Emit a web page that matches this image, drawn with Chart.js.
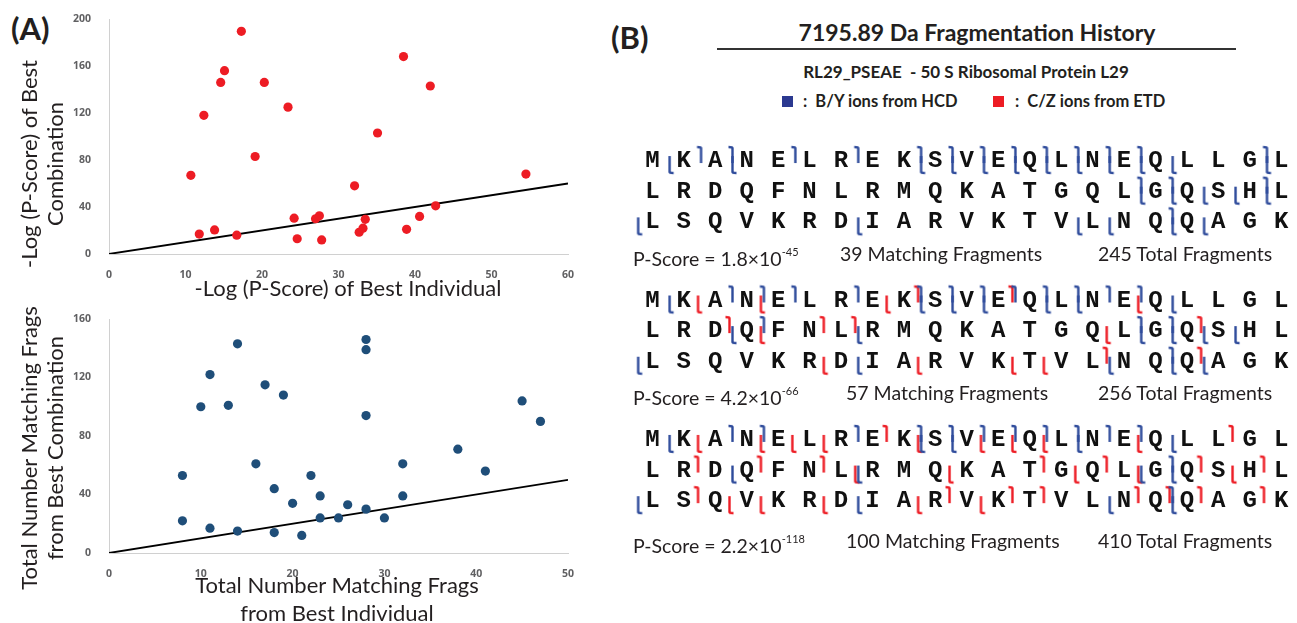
<!DOCTYPE html>
<html>
<head>
<meta charset="utf-8">
<script src="https://cdn.jsdelivr.net/npm/chart.js@4.4.1/dist/chart.umd.min.js"></script>
<style>
  body { margin: 0; width: 1297px; height: 623px; overflow: hidden; position: relative; background: #fff;
         font-family: Lato, "Open Sans", sans-serif; color: #231f20; }
  .abs { position: absolute; white-space: nowrap; }
  .box { position: absolute; }
  .ytitle { position: absolute; width: 320px; text-align: center; font-size: 22px; line-height: 26px; transform: rotate(-90deg); }
  .xtitle { position: absolute; width: 400px; text-align: center; font-size: 22px; line-height: 28px; }
  .panel { font-size: 31px; font-weight: bold; line-height: 36px; }
  .stat { font-size: 19.5px; line-height: 22px; }
  .stat sup { font-size: 11px; position: relative; top: -2px; }
  .sq { position: absolute; width: 11px; height: 11px; }
  .leg { font-size: 16.5px; font-weight: bold; line-height: 20px; }
</style>
</head>
<body>
<div class="abs panel" style="left:11px;top:10px">(A)</div>
<div class="abs panel" style="left:611px;top:19px">(B)</div>

<div class="box" style="left:0;top:0;width:600px;height:300px"><canvas id="topChart"></canvas></div>
<div class="box" style="left:0;top:300px;width:600px;height:300px"><canvas id="bottomChart"></canvas></div>

<div class="ytitle" style="left:-118px;top:138px">-Log (P-Score) of Best<br>Combination</div>
<div class="xtitle" style="left:148px;top:274px">-Log (P-Score) of Best Individual</div>
<div class="ytitle" style="left:-118px;top:422px">Total Number Matching Frags<br>from Best Combination</div>
<div class="xtitle" style="left:137px;top:571px">Total Number Matching Frags<br>from Best Individual</div>

<div class="abs" style="left:721px;top:17px;width:512px;text-align:center;font-size:23px;font-weight:bold;line-height:30px">7195.89 Da Fragmentation History</div>
<div class="abs" style="left:717px;top:48px;width:519px;height:2px;background:#333"></div>
<div class="abs" style="left:716px;top:61px;width:500px;text-align:center;font-size:17px;font-weight:bold;line-height:22px">RL29_PSEAE&nbsp; - 50 S Ribosomal Protein L29</div>
<div class="sq" style="left:782px;top:96px;background:#2b3990"></div>
<div class="abs leg" style="left:803px;top:91px">:&nbsp; B/Y ions from HCD</div>
<div class="sq" style="left:993px;top:96px;background:#ed1c24"></div>
<div class="abs leg" style="left:1015px;top:91px">:&nbsp; C/Z ions from ETD</div>

<div class="box" style="left:610px;top:120px;width:687px;height:440px"><canvas id="seqChart"></canvas></div>

<div id="stats"></div>

<script>
// ---- panel A data ----
const topX = [17.3, 38.5, 15.1, 14.6, 20.3, 42.0, 23.4, 12.4, 35.1, 19.1, 10.7, 54.5, 32.1, 42.7,
              24.2, 27.0, 27.5, 33.5, 40.6, 13.8, 11.8, 16.7, 24.6, 27.8, 32.7, 33.2, 38.9];
const topY = [189.5, 168, 156, 146, 146, 143, 125, 118, 103, 83, 67, 68, 58, 41,
              30.5, 30, 32.5, 29.5, 32, 20.5, 17, 16, 13, 12, 18.5, 22, 21];
const topLineX = [0, 60];
const topLineY = [0, 60];

const bottomX = [14, 28, 28, 11, 17, 19, 10, 13, 45, 28, 47, 38, 16, 32, 41, 8,
                 22, 18, 23, 32, 20, 26, 28, 23, 25, 30, 8, 11, 14, 18, 21];
const bottomY = [143, 146, 139, 122, 115, 108, 100, 101, 104, 94, 90, 71, 61, 61, 56, 53,
                 53, 44, 39, 39, 34, 33, 30, 24, 24, 24, 22, 17, 15, 14, 12];
const bottomLineX = [0, 50];
const bottomLineY = [0, 50];

// ---- panel B data ----
const sequence = 'MKANELREKSVEQLNEQLLGLLRDQFNLRMQKATGQLGQSHLLSQVKRDIARVKTVLNQQAGK';
const perRow = 21;
// cleavage sites (after residue n), N-terminal and C-terminal flags
const hcdN1 = [1, 3, 9, 10, 11, 12, 13, 14, 15, 16, 17, 20, 37, 38, 39, 40, 41, 42, 49, 56, 57, 59, 60];
const hcdC1 = [2, 3, 5, 7, 9, 10, 11, 12, 13, 14, 15, 16, 20, 37, 38, 41, 59];
const hcdN2 = [1, 9, 10, 11, 13, 14, 17, 24, 28, 37, 38, 39, 40, 42, 49, 57, 59, 60];
const hcdC2 = [3, 4, 5, 7, 9, 10, 11, 12, 13, 14, 15, 16, 25, 37, 38, 59];
const etdN2 = [2, 4, 8, 16, 25, 36, 48, 51, 54, 55];
const etdC2 = [9, 12, 24, 27, 28, 39, 57, 60];
const hcdN3 = [1, 9, 10, 14, 17, 24, 28, 37, 38, 42, 49, 57, 59];
const hcdC3 = [3, 4, 7, 9, 10, 11, 12, 13, 14, 15, 16, 38, 59];
const etdN3 = [2, 4, 5, 6, 9, 11, 12, 13, 16, 28, 31, 35, 37, 40, 45, 46, 48, 51, 53];
const etdC3 = [8, 19, 23, 25, 27, 34, 36, 39, 41, 44, 52, 54, 55, 58, 59, 60, 62];

const pScoreBase = ['1.8', '4.2', '2.2'];
const pScoreExp = ['-45', '-66', '-118'];
const matching = [39, 57, 100];
const totals = [245, 256, 410];

const RED = '#ed1c24';
const BLUE = '#1f4e79';
const HCD = '#2e4b9b';

const tickFont = { family: '"Open Sans", "DejaVu Sans", sans-serif', weight: 'bold', size: 10.5 };

function scatterChart(id, xs, ys, lx, ly, color, xMax, yMax, xStep, yStep, xHeight) {
  const pts = xs.map((x, i) => ({ x, y: ys[i] }));
  const line = lx.map((x, i) => ({ x, y: ly[i] }));
  return new Chart(document.getElementById(id), {
    type: 'scatter',
    data: {
      datasets: [
        { data: pts, backgroundColor: color, pointRadius: 4.6, pointHoverRadius: 4.6, pointBorderWidth: 0, order: 1 },
        { type: 'line', data: line, borderColor: '#000', borderWidth: 1.8, pointRadius: 0, order: 2 },
      ],
    },
    options: {
      animation: false,
      responsive: true,
      maintainAspectRatio: false,
      layout: { padding: { left: 60, right: 32, top: 19, bottom: 0 } },
      plugins: { legend: { display: false }, tooltip: { enabled: false } },
      scales: {
        x: {
          type: 'linear', min: 0, max: xMax,
          grid: { display: false },
          border: { display: true, color: '#d0d0d0' },
          ticks: { stepSize: xStep, padding: 7, color: '#606062', font: tickFont, maxRotation: 0 },
          afterFit: (s) => { s.height = xHeight; },
        },
        y: {
          min: 0, max: yMax,
          grid: { display: false },
          border: { display: true, color: '#d0d0d0' },
          ticks: { stepSize: yStep, padding: 10, color: '#606062', font: tickFont },
          afterFit: (s) => { s.width = 49; },
        },
      },
    },
  });
}

scatterChart('topChart', topX, topY, topLineX, topLineY, RED, 60, 200, 10, 40, 46);
scatterChart('bottomChart', bottomX, bottomY, bottomLineX, bottomLineY, BLUE, 50, 160, 10, 40, 47);

// ---- panel B: sequence map ----
const blockGap = 4.55;

function residuePos(i, block) {
  return { x: i % perRow, y: block * blockGap + Math.floor(i / perRow) };
}
function sitePos(s, block) {
  if (s % perRow === 0) return { x: -0.5, y: block * blockGap + s / perRow };
  const p = residuePos(s - 1, block);
  return { x: p.x + 0.5, y: p.y };
}

function makeMarker(color, kind, dx) {
  const c = document.createElement('canvas');
  c.width = 16;
  c.height = 34;
  const ctx = c.getContext('2d');
  ctx.strokeStyle = color;
  ctx.lineWidth = 2.4;
  ctx.lineJoin = 'round';
  const x0 = 8 + dx;
  ctx.beginPath();
  if (kind === 'N') {
    ctx.moveTo(x0, 13);
    ctx.lineTo(x0, 29);
    ctx.quadraticCurveTo(x0, 30, x0 + 4, 30);
  } else {
    ctx.moveTo(x0, 20);
    ctx.lineTo(x0, 5);
    ctx.quadraticCurveTo(x0, 4, x0 - 4, 4);
  }
  ctx.stroke();
  return c;
}

const residues = sequence.split('');
const letterPts = [];
[0, 1, 2].forEach((b) => residues.forEach((r, i) => letterPts.push(residuePos(i, b))));

function sites(lists) {
  const out = [];
  lists.forEach((l, b) => l.forEach((s) => out.push(sitePos(s, b))));
  return out;
}

const markerSets = [
  { data: sites([hcdN1, hcdN2, hcdN3]), style: makeMarker(HCD, 'N', 1.5) },
  { data: sites([hcdC1, hcdC2, hcdC3]), style: makeMarker(HCD, 'C', 1.5) },
  { data: sites([[], etdN2, etdN3]), style: makeMarker(RED, 'N', -1.5) },
  { data: sites([[], etdC2, etdC3]), style: makeMarker(RED, 'C', -1.5) },
];

const letterPlugin = {
  id: 'letters',
  afterDatasetsDraw(chart) {
    const meta = chart.getDatasetMeta(0);
    const ctx = chart.ctx;
    ctx.save();
    ctx.fillStyle = '#111';
    ctx.font = 'bold 24px "Liberation Mono", "Courier New", monospace';
    ctx.textAlign = 'center';
    ctx.textBaseline = 'middle';
    meta.data.forEach((el, i) => {
      ctx.fillText(residues[i % residues.length], el.x, el.y + 1);
    });
    ctx.restore();
  },
};

new Chart(document.getElementById('seqChart'), {
  type: 'scatter',
  data: {
    datasets: [
      { data: letterPts, pointRadius: 0 },
      ...markerSets.map((m) => ({ data: m.data, pointStyle: m.style, pointRadius: 5, pointHoverRadius: 5 })),
    ],
  },
  options: {
    animation: false,
    responsive: true,
    maintainAspectRatio: false,
    layout: { padding: 0 },
    plugins: { legend: { display: false }, tooltip: { enabled: false } },
    scales: {
      x: { type: 'linear', display: false, min: -37 / 32, max: -37 / 32 + 687 / 32 },
      y: { type: 'linear', display: false, reverse: true, min: -35 / 31.5, max: -35 / 31.5 + 440 / 31.5 },
    },
  },
  plugins: [letterPlugin],
});

// stats lines
const statTops = [243, 382, 530];
const stats = document.getElementById('stats');
pScoreBase.forEach((p, k) => {
  stats.innerHTML +=
    `<div class="abs stat" style="left:633px;top:${statTops[k]}px">P-Score = ${p}×10<sup>${pScoreExp[k]}</sup></div>` +
    `<div class="abs stat" style="left:${k === 0 ? 840 : 846}px;top:${statTops[k]}px">${matching[k]} Matching Fragments</div>` +
    `<div class="abs stat" style="left:1098px;top:${statTops[k]}px">${totals[k]} Total Fragments</div>`;
});
</script>
</body>
</html>
